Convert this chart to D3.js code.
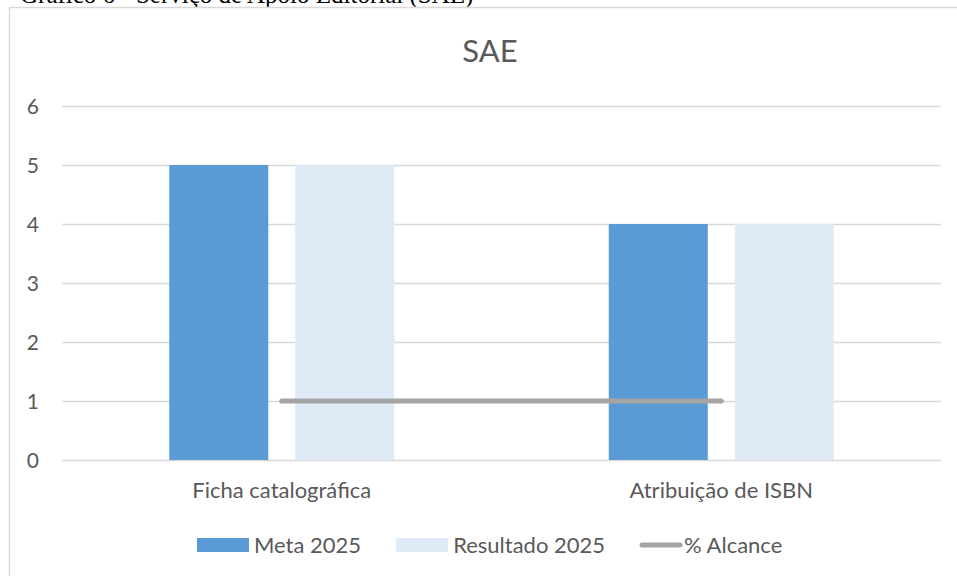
<!DOCTYPE html>
<html>
<head>
<meta charset="utf-8">
<script src="https://cdn.jsdelivr.net/npm/d3@7/dist/d3.min.js"></script>
<style>
    body { margin: 0; background: #ffffff; }
    svg { display: block; }
    .tick text, .cat, .legend text { fill: #595959; font-family: Lato, "Open Sans", sans-serif; }
</style>
</head>
<body>
<svg></svg>
<script>
// values
var categories = ["Ficha catalográfica", "Atribuição de ISBN"]
var meta2025 = [5, 4]
var resultado2025 = [5, 4]
var alcance = [1, 1]
var yTicks = [0, 1, 2, 3, 4, 5, 6]
var barSeries = ["Meta 2025", "Resultado 2025"]
var lineSeries = "% Alcance"
var chartTitle = "SAE"
var caption = "Gráfico 6 - Serviço de Apoio Editorial (SAE)"

var colors = {
    "Meta 2025": "#5B9BD5",
    "Resultado 2025": "#DEEBF7",
    "% Alcance": "#A5A5A5"
}

var makeTranslateString = function (x, y) {
    return "translate(" + x + "," + y + ")";
}

var drawFrame = function (svg, screen) {
    // caption sits above the chart box, mostly cut off by the page top
    svg.append("text")
        .text(caption)
        .attr("x", 20)
        .attr("y", 3)
        .attr("font-family", "Liberation Serif, Times New Roman, serif")
        .attr("font-size", 25)
        .attr("fill", "#000000")

    svg.append("rect")
        .attr("x", 9.5)
        .attr("y", 7.5)
        .attr("width", screen.width + 40)
        .attr("height", screen.height + 40)
        .attr("fill", "none")
        .attr("stroke", "#D9D9D9")
        .attr("stroke-width", 1.5)

    svg.append("text")
        .text(chartTitle)
        .attr("x", 490)
        .attr("y", 62)
        .attr("text-anchor", "middle")
        .attr("font-family", "Lato, sans-serif")
        .attr("font-size", 31)
        .attr("fill", "#595959")
}

var drawAxes = function (svg, plot, xScale, yScale) {
    var yAxis = d3.axisLeft()
        .scale(yScale)
        .tickValues(yTicks)
        .tickSize(-(plot.right - plot.left))
        .tickPadding(23)
        .tickFormat(d3.format("d"))

    var yg = svg.append("g")
        .attr("transform", makeTranslateString(plot.left, 0))
        .call(yAxis)
    yg.select(".domain").remove()
    yg.selectAll(".tick line")
        .attr("stroke", "#D9D9D9")
        .attr("stroke-width", 1.5)
    yg.selectAll(".tick text")
        .attr("font-size", 21)
        .attr("dy", "0.35em")

    var xAxis = d3.axisBottom()
        .scale(xScale)
        .tickSize(0)

    var xg = svg.append("g")
        .attr("transform", makeTranslateString(0, plot.bottom))
        .call(xAxis)
    xg.select(".domain").remove()
    xg.selectAll(".tick text")
        .attr("font-size", 22)
        .attr("y", 38)
        .attr("dy", 0)
}

var drawBars = function (svg, xScale, xInner, yScale) {
    var rows = categories.map(function (cat, i) {
        return { cat: cat, values: [meta2025[i], resultado2025[i]] }
    })

    var groups = svg.append("g")
        .selectAll("g")
        .data(rows)
        .enter()
        .append("g")
        .attr("transform", function (row) {
            return makeTranslateString(xScale(row.cat) + xScale.bandwidth() / 2, 0)
        })

    groups.selectAll("rect")
        .data(function (row) {
            return row.values.map(function (v, j) {
                return { series: barSeries[j], value: v }
            })
        })
        .enter()
        .append("rect")
        .attr("x", function (d) { return xInner(d.series) })
        .attr("width", xInner.bandwidth())
        .attr("y", function (d) { return yScale(d.value) })
        .attr("height", function (d) { return yScale(0) - yScale(d.value) })
        .attr("fill", function (d) { return colors[d.series] })
}

var drawLine = function (svg, xScale, yScale) {
    var lineGenerator = d3.line()
        .x(function (d) { return xScale(d.cat) + xScale.bandwidth() / 2 })
        .y(function (d) { return yScale(d.value) })

    var pts = categories.map(function (cat, i) {
        return { cat: cat, value: alcance[i] }
    })

    svg.append("path")
        .datum(pts)
        .attr("d", lineGenerator)
        .attr("fill", "none")
        .attr("stroke", colors[lineSeries])
        .attr("stroke-width", 5)
        .attr("stroke-linecap", "round")
}

var drawLegend = function (svg) {
    var legend = svg.append("g")
        .classed("legend", true)
    var x = 197
    var y = 545
    var items = barSeries.concat([lineSeries])

    items.forEach(function (name, i) {
        var swW = i < 2 ? 52 : 42
        if (i < 2) {
            legend.append("rect")
                .attr("x", x)
                .attr("y", y - 7)
                .attr("width", swW)
                .attr("height", 14)
                .attr("fill", colors[name])
        } else {
            legend.append("line")
                .attr("x1", x + 2)
                .attr("x2", x + swW - 2)
                .attr("y1", y)
                .attr("y2", y)
                .attr("stroke", colors[name])
                .attr("stroke-width", 5)
                .attr("stroke-linecap", "round")
        }
        var t = legend.append("text")
            .text(name)
            .attr("x", x + swW + (i < 2 ? 5 : 2))
            .attr("y", y + 7.5)
            .attr("font-size", 22)
        x = x + swW + 5 + t.node().getComputedTextLength() + 35
    })
}

var initGraph = function () {
    var screen = { width: 957, height: 576 }
    var plot = { left: 62, right: 941, top: 106, bottom: 460 }

    var svg = d3.select("svg")
        .attr("width", screen.width)
        .attr("height", screen.height)

    var xScale = d3.scaleBand()
        .domain(categories)
        .range([plot.left, plot.right])

    var xInner = d3.scaleBand()
        .domain(barSeries)
        .range([-112.5, 112.5])
        .paddingInner(0.214)

    var yScale = d3.scaleLinear()
        .domain([0, 6])
        .range([plot.bottom, plot.top])

    drawFrame(svg, screen)
    drawAxes(svg, plot, xScale, yScale)
    drawBars(svg, xScale, xInner, yScale)
    drawLine(svg, xScale, yScale)
    drawLegend(svg)
}

initGraph()
</script>
</body>
</html>
